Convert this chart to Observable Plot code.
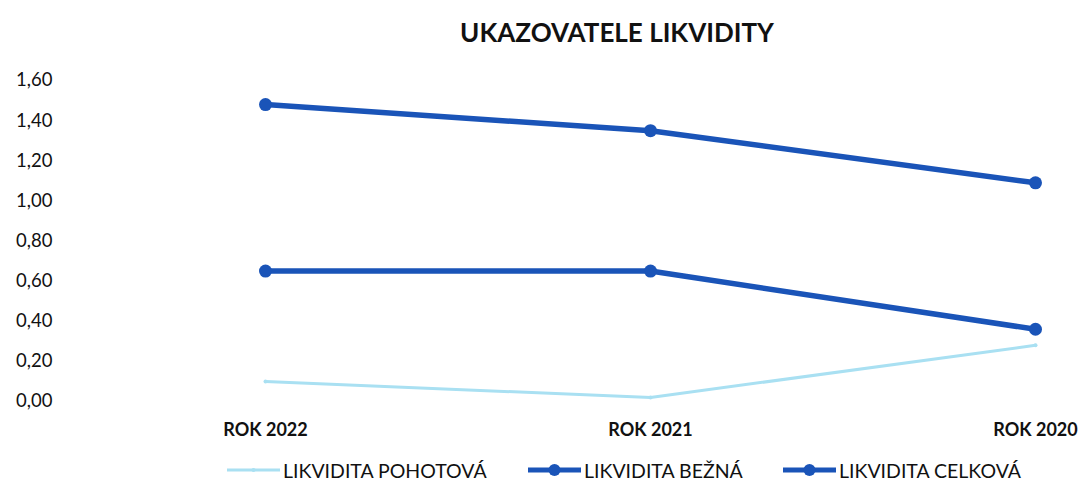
<!DOCTYPE html>
<html>
<head>
<meta charset="utf-8">
<script src="https://cdn.jsdelivr.net/npm/d3@7"></script>
<script src="https://cdn.jsdelivr.net/npm/@observablehq/plot@0.6"></script>
<style>
  html, body { margin: 0; padding: 0; background: #fff; width: 1086px; height: 482px; overflow: hidden; font-family: Lato, "Open Sans", sans-serif; color: #111; }
  #title { position: absolute; left: 0; top: 16px; width: 1234px; text-align: center; font-weight: bold; font-size: 26px; line-height: 32px; color: #111; }
  #chart { position: absolute; left: 0; top: 60px; }
  #legend { position: absolute; left: 0; top: 457px; width: 1086px; height: 26px; font-size: 19.5px; color: #111; }
  .item { position: absolute; top: 0; display: flex; align-items: center; height: 26px; white-space: nowrap; }
  .item svg { margin-right: 3px; }
</style>
</head>
<body>
<div id="title">UKAZOVATELE LIKVIDITY</div>
<div id="chart"></div>
<div id="legend"></div>
<script>
const years = ["ROK 2022", "ROK 2021", "ROK 2020"];
const seriesNames = ["LIKVIDITA POHOTOVÁ", "LIKVIDITA BEŽNÁ", "LIKVIDITA CELKOVÁ"];
const pohotova = [0.10, 0.02, 0.28];
const bezna = [0.65, 0.65, 0.36];
const celkova = [1.48, 1.35, 1.09];
const yTicks = [0, 0.2, 0.4, 0.6, 0.8, 1.0, 1.2, 1.4, 1.6];

const lightBlue = "#a9e0f2";
const darkBlue = "#1a54b8";

const toRows = (vals, name) => vals.map((v, i) => ({year: years[i], value: v, series: name}));
const rowsP = toRows(pohotova, seriesNames[0]);
const rowsB = toRows(bezna, seriesNames[1]);
const rowsC = toRows(celkova, seriesNames[2]);

const fmt = d => d.toFixed(2).replace(".", ",");

const chart = Plot.plot({
  width: 1086,
  height: 385,
  marginTop: 20,
  marginBottom: 44,
  marginLeft: 54,
  marginRight: 51,
  style: {fontFamily: "Lato, 'Open Sans', sans-serif", color: "#111", background: "transparent"},
  x: {type: "point", domain: years, range: [265, 1035], padding: 0},
  y: {domain: [0, 1.6]},
  marks: [
    Plot.axisY({ticks: yTicks, tickSize: 0, tickPadding: 2, tickFormat: fmt, fontSize: 18.5, label: null}),
    Plot.axisX({tickSize: 0, tickPadding: 22, fontSize: 18, fontWeight: "bold", label: null}),
    Plot.line(rowsP, {x: "year", y: "value", stroke: lightBlue, strokeWidth: 3}),
    Plot.dot(rowsP, {x: "year", y: "value", r: 2, fill: lightBlue}),
    Plot.line(rowsB, {x: "year", y: "value", stroke: darkBlue, strokeWidth: 5.5}),
    Plot.dot(rowsB, {x: "year", y: "value", r: 6.5, fill: darkBlue}),
    Plot.line(rowsC, {x: "year", y: "value", stroke: darkBlue, strokeWidth: 5.5}),
    Plot.dot(rowsC, {x: "year", y: "value", r: 6.5, fill: darkBlue})
  ]
});
document.getElementById("chart").appendChild(chart);

// legend
const legend = document.getElementById("legend");
const legendDefs = [
  {name: seriesNames[0], color: lightBlue, w: 3, r: 2, left: 227},
  {name: seriesNames[1], color: darkBlue, w: 5, r: 6, left: 528},
  {name: seriesNames[2], color: darkBlue, w: 5, r: 6, left: 783}
];
legendDefs.forEach(d => {
  const item = document.createElement("div");
  item.className = "item";
  item.style.left = d.left + "px";
  item.innerHTML = `<svg width="53" height="20"><line x1="0" y1="10" x2="53" y2="10" stroke="${d.color}" stroke-width="${d.w}"/><circle cx="26.5" cy="10" r="${d.r}" fill="${d.color}"/></svg><span>${d.name}</span>`;
  legend.appendChild(item);
});
</script>
</body>
</html>
